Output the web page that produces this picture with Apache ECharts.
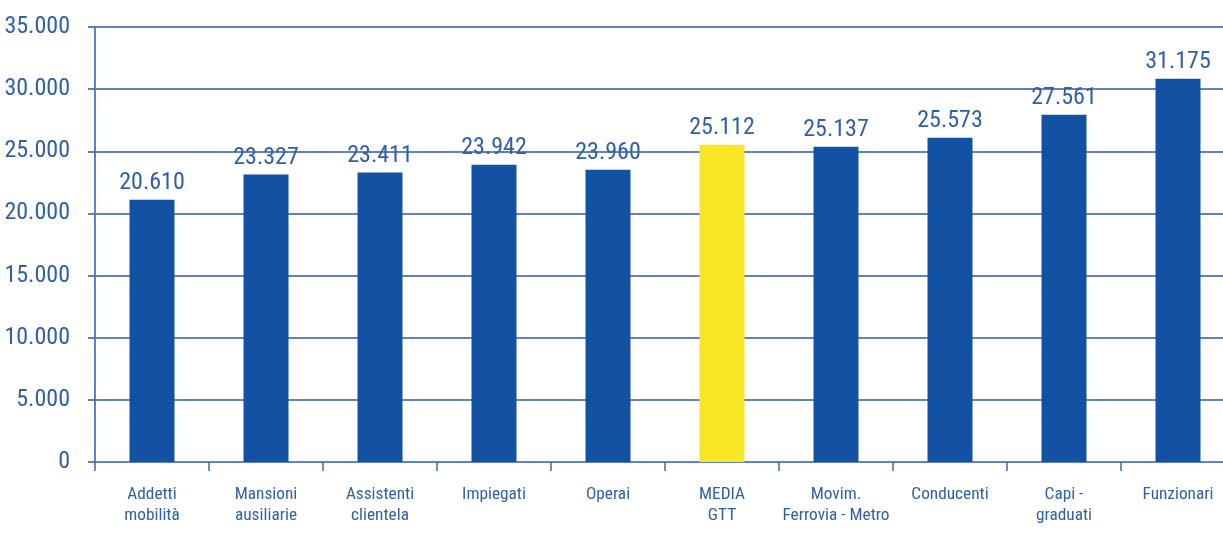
<!DOCTYPE html>
<html>
<head>
<meta charset="utf-8">
<script src="https://cdn.jsdelivr.net/npm/echarts@6/dist/echarts.min.js"></script>
<style>
  html, body { margin: 0; padding: 0; background: #ffffff; }
  #chart { width: 1223px; height: 534px; }
</style>
</head>
<body>
<div id="chart"></div>
<script>
// Categories (x axis)
const categories = [
  'Addetti\nmobilità',
  'Mansioni\nausiliarie',
  'Assistenti\nclientela',
  'Impiegati',
  'Operai',
  'MEDIA\nGTT',
  'Movim.\nFerrovia - Metro',
  'Conducenti',
  'Capi -\ngraduati',
  'Funzionari'
];
// Bar heights as drawn in the picture
const barValues = [21100, 23130, 23290, 23910, 23510, 25520, 25360, 26090, 27940, 30840];
// Printed value labels
const valueLabels = ['20.610', '23.327', '23.411', '23.942', '23.960', '25.112', '25.137', '25.573', '27.561', '31.175'];
// Index of the highlighted (average) bar
const highlightIndex = 5;
// Y axis ticks
const yMin = 0, yMax = 35000, yStep = 5000;

const FONT = '"Roboto Condensed", "Liberation Sans Narrow", "DejaVu Sans Condensed", sans-serif';
const TEXT = '#2f5fa8';
const BLUE = '#1351a3';
const YELLOW = '#f8e626';

// size the condensed font so text widths match the reference
const mctx = document.createElement('canvas').getContext('2d');
function fitSize(text, targetWidth) {
  mctx.font = '100px ' + FONT;
  return Math.round(targetWidth / mctx.measureText(text).width * 100 * 10) / 10;
}
const numSize = Math.min(26, fitSize('35.000', 57) * 1.15);
const catSize = Math.min(20, fitSize('Funzionari', 71));

const chart = echarts.init(document.getElementById('chart'), null, { renderer: 'canvas' });
chart.setOption({
  animation: false,
  backgroundColor: '#ffffff',
  grid: { left: 95, right: -12, top: 27, bottom: 72, containLabel: false, outerBoundsMode: 'none' },
  xAxis: {
    type: 'category',
    data: categories,
    axisLine: { show: true, lineStyle: { color: '#5a84c3', width: 2 } },
    axisTick: { show: true, length: 9, alignWithLabel: false, lineStyle: { color: '#3a68ae', width: 1.5 } },
    axisLabel: {
      interval: 0,
      margin: 22,
      color: TEXT,
      fontFamily: FONT,
      fontSize: catSize,
      lineHeight: 21
    }
  },
  yAxis: {
    type: 'value',
    min: yMin, max: yMax, interval: yStep,
    axisLine: { show: true, lineStyle: { color: '#5a84c3', width: 2 } },
    axisTick: { show: true, length: 7, lineStyle: { color: '#2c5aa0', width: 1.5 } },
    splitLine: { show: true, lineStyle: { color: '#2c5aa0', width: 1.5 } },
    axisLabel: {
      margin: 25,
      color: TEXT,
      fontFamily: FONT,
      fontSize: numSize,
      formatter: v => v === 0 ? '0' : v.toLocaleString('de-DE')
    }
  },
  series: [{
    type: 'bar',
    barWidth: 45,
    data: barValues.map((v, i) => ({
      value: v,
      itemStyle: { color: i === highlightIndex ? YELLOW : BLUE }
    })),
    label: {
      show: true,
      position: 'top',
      distance: 5,
      color: TEXT,
      fontFamily: FONT,
      fontSize: numSize,
      formatter: p => valueLabels[p.dataIndex]
    }
  }]
});
</script>
</body>
</html>
